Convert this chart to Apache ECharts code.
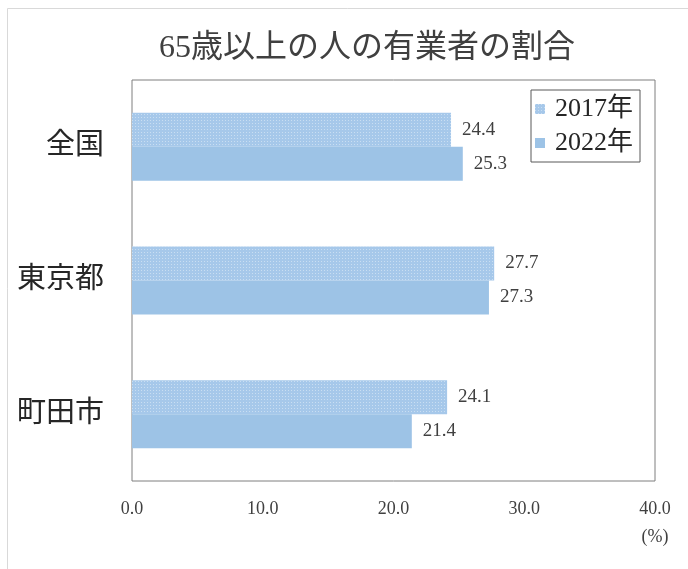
<!DOCTYPE html>
<html><head><meta charset="utf-8">
<script src="https://cdn.jsdelivr.net/npm/echarts@6/dist/echarts.min.js"></script>
<style>html,body{margin:0;padding:0;background:#fff}#c{width:688px;height:569px}</style>
</head><body><div id="c"></div>
<script>
const title = '65歳以上の人の有業者の割合';
const categories = ['全国', '東京都', '町田市'];
const seriesNames = ['2017年', '2022年'];
const values2017 = [24.4, 27.7, 24.1];
const values2022 = [25.3, 27.3, 21.4];
const xTicks = [0, 10, 20, 30, 40];
const unitLabel = '(%)';

const FONT = "'Liberation Serif', 'Noto Sans CJK JP', serif";
const chart = echarts.init(document.getElementById('c'));
const labelStyle = {show: true, position: 'right', distance: 11, color: '#404040', fontSize: 19, fontFamily: FONT,
  formatter: p => p.value.toFixed(1)};
chart.setOption({
  backgroundColor: '#fff',
  animation: false,
  title: {text: title, left: 154, top: 28, textStyle: {fontFamily: FONT, fontSize: 32, fontWeight: 'normal', color: '#404040'}},
  graphic: [{type: 'polyline', shape: {points: [[7.5, 569], [7.5, 8.5], [688, 8.5]]}, style: {stroke: '#d9d9d9', lineWidth: 1, fill: null}}],
  legend: {
    orient: 'vertical', right: 48, top: 90, padding: [6, 7, 6, 4],
    borderColor: '#595959', borderWidth: 1, itemWidth: 10, itemHeight: 10, itemGap: 8,
    icon: 'rect',
    textStyle: {fontFamily: FONT, fontSize: 26, color: '#262626', padding: [0, 0, 0, 5]},
    data: seriesNames
  },
  grid: {left: 132, right: 33, top: 80, bottom: 88, show: true, borderColor: '#7f7f7f', borderWidth: 1},
  xAxis: {
    type: 'value', min: 0, max: 40, interval: 10,
    axisLine: {show: false}, axisTick: {show: false}, splitLine: {show: false},
    axisLabel: {margin: 14, color: '#404040', fontSize: 18, fontFamily: FONT, lineHeight: 28, verticalAlign: 'top',
      formatter: v => xTicks.indexOf(v) === xTicks.length - 1 ? v.toFixed(1) + '\n' + unitLabel : v.toFixed(1)}
  },
  yAxis: {
    type: 'category', data: categories, inverse: true,
    axisLine: {show: false}, axisTick: {show: false},
    axisLabel: {margin: 28, color: '#262626', fontSize: 29, fontFamily: FONT}
  },
  series: [
    {name: seriesNames[0], type: 'bar', data: values2017, barWidth: 34, barGap: '0%',
     itemStyle: {color: '#a6c8ea', decal: {symbol: 'rect', symbolSize: 1, dashArrayX: [1, 2], dashArrayY: [1, 2], color: 'rgba(255,255,255,0.4)'}},
     label: labelStyle},
    {name: seriesNames[1], type: 'bar', data: values2022, barWidth: 34,
     itemStyle: {color: '#9dc3e6'}, label: labelStyle}
  ]
});
</script></body></html>
